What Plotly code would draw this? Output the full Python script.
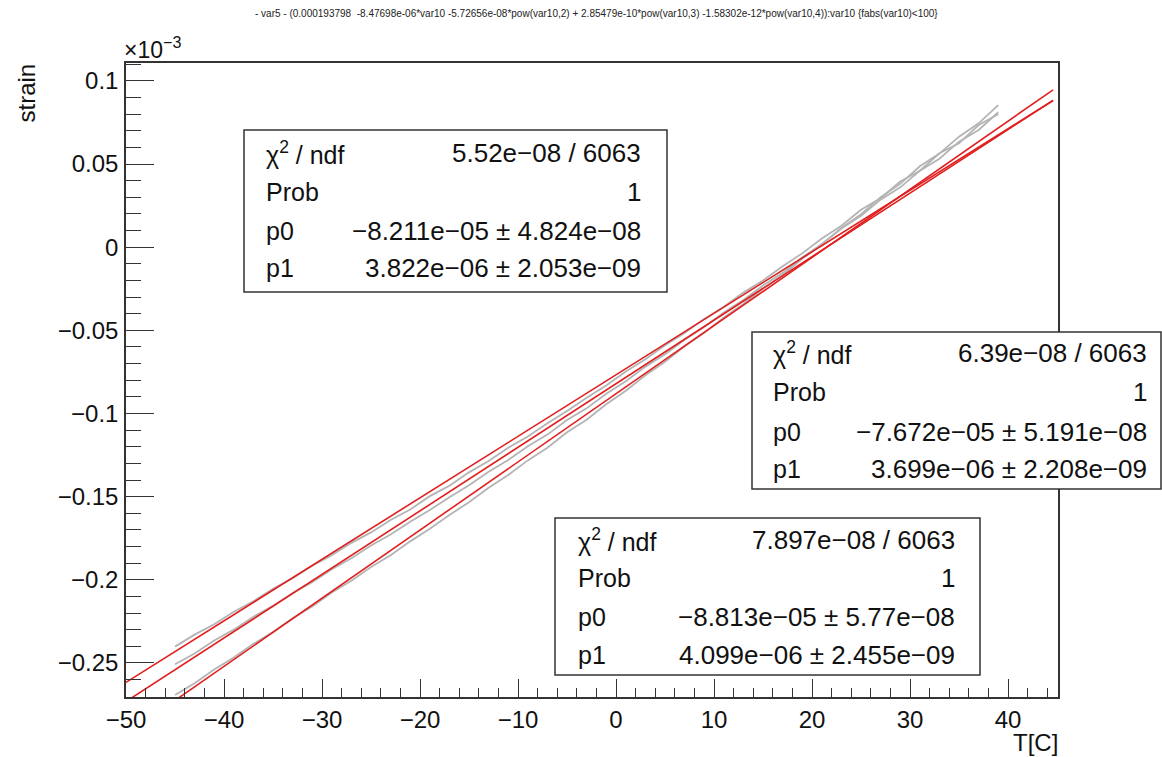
import plotly.graph_objects as go

# ---------------- data (strain in units of 1e-3, T in C) ----------------
temp = [-45, -43, -41, -39, -37, -35, -33, -31, -29, -27, -25, -23, -21, -19, -17,
        -15, -13, -11, -9, -7, -5, -3, -1, 1, 3, 5, 7, 9, 11, 13, 15, 17, 19, 21,
        23, 25, 27, 29, 31, 33, 35, 37, 39]

strain_a = [-0.2402, -0.2330, -0.2267, -0.2192, -0.2129, -0.2054, -0.1991, -0.1916,
            -0.1853, -0.1778, -0.1715, -0.1640, -0.1577, -0.1497, -0.1434, -0.1354,
            -0.1286, -0.1206, -0.1138, -0.1058, -0.0985, -0.0905, -0.0832, -0.0747,
            -0.0674, -0.0589, -0.0516, -0.0431, -0.0358, -0.0273, -0.0200, -0.0115,
            -0.0037, 0.0053, 0.0129, 0.0225, 0.0295, 0.0395, 0.0460, 0.0565, 0.0625,
            0.0735, 0.0800]

strain_b = [-0.2508, -0.2443, -0.2365, -0.2300, -0.2222, -0.2157, -0.2079, -0.2014,
            -0.1937, -0.1871, -0.1794, -0.1728, -0.1651, -0.1580, -0.1503, -0.1432,
            -0.1350, -0.1280, -0.1197, -0.1127, -0.1039, -0.0969, -0.0881, -0.0806,
            -0.0718, -0.0643, -0.0556, -0.0480, -0.0393, -0.0317, -0.0230, -0.0154,
            -0.0062, 0.0019, 0.0112, 0.0189, 0.0286, 0.0360, 0.0460, 0.0532, 0.0635,
            0.0705, 0.0812]

strain_c = [-0.2693, -0.2622, -0.2539, -0.2468, -0.2385, -0.2314, -0.2231, -0.2160,
            -0.2077, -0.2006, -0.1923, -0.1852, -0.1769, -0.1693, -0.1610, -0.1534,
            -0.1446, -0.1370, -0.1282, -0.1206, -0.1113, -0.1037, -0.0944, -0.0863,
            -0.0770, -0.0689, -0.0596, -0.0515, -0.0422, -0.0341, -0.0248, -0.0167,
            -0.0069, 0.0017, 0.0116, 0.0199, 0.0301, 0.0381, 0.0487, 0.0563, 0.0665,
            0.0745, 0.0855]

# fit parameters (pol1: p0 + p1*T), in strain units
fit_p0 = [-8.211e-05, -7.672e-05, -8.813e-05]
fit_p1 = [3.822e-06, 3.699e-06, 4.099e-06]
fit_range = [-50, 44.6]

# stats box texts
stat_chi2 = ["5.52e\u221208 / 6063", "6.39e\u221208 / 6063", "7.897e\u221208 / 6063"]
stat_prob = ["1", "1", "1"]
stat_p0 = ["\u22128.211e\u221205 \u00b1 4.824e\u221208",
           "\u22127.672e\u221205 \u00b1 5.191e\u221208",
           "\u22128.813e\u221205 \u00b1 5.77e\u221208"]
stat_p1 = ["3.822e\u221206 \u00b1 2.053e\u221209",
           "3.699e\u221206 \u00b1 2.208e\u221209",
           "4.099e\u221206 \u00b1 2.455e\u221209"]

x_tickvals = [-50, -40, -30, -20, -10, 0, 10, 20, 30, 40]
x_ticktext = ["\u221250", "\u221240", "\u221230", "\u221220", "\u221210", "0", "10", "20", "30", "40"]
y_tickvals = [-0.25, -0.2, -0.15, -0.1, -0.05, 0, 0.05, 0.1]
y_ticktext = ["\u22120.25", "\u22120.2", "\u22120.15", "\u22120.1", "\u22120.05", "0", "0.05", "0.1"]

title_text = ("- var5 - (0.000193798  -8.47698e-06*var10 -5.72656e-08*pow(var10,2) + "
              "2.85479e-10*pow(var10,3) -1.58302e-12*pow(var10,4)):var10 {fabs(var10)<100}")

# ---------------- layout geometry (pixels) ----------------
W, H = 1162, 757
L, R, T, B = 126, 1058, 63, 697
FONT = "Liberation Sans, Arial, Helvetica, sans-serif"
FRAME = "#333333"
TXT = "#111111"


def px(x):
    return (x - L) / (R - L)


def py(y):
    return (B - y) / (B - T)


fig = go.Figure()

for ys in (strain_a, strain_b, strain_c):
    fig.add_trace(go.Scatter(x=temp, y=ys, mode="lines",
                             line=dict(color="#b4b4b4", width=1.8),
                             showlegend=False, hoverinfo="skip"))

for p0, p1 in zip(fit_p0, fit_p1):
    xs = fit_range
    ys = [(p0 + p1 * x) * 1e3 for x in xs]
    fig.add_trace(go.Scatter(x=xs, y=ys, mode="lines",
                             line=dict(color="#e01e1e", width=1.6),
                             showlegend=False, hoverinfo="skip"))

fig.update_xaxes(range=[-50, 45.1], showgrid=False, zeroline=False,
                 showline=True, linecolor=FRAME, linewidth=1.5, mirror=True,
                 ticks="inside", ticklen=18, tickwidth=1.3, tickcolor=FRAME,
                 tickmode="array", tickvals=x_tickvals, ticktext=x_ticktext,
                 tickfont=dict(family=FONT, size=24, color=TXT),
                 ticklabelstandoff=0,
                 minor=dict(tickmode="linear", tick0=0, dtick=2, ticks="inside",
                            ticklen=9, tickwidth=1.2, tickcolor=FRAME, showgrid=False))
fig.update_yaxes(range=[-0.2705, 0.1108], showgrid=False, zeroline=False,
                 showline=True, linecolor=FRAME, linewidth=1.5, mirror=True,
                 ticks="inside", ticklen=28, tickwidth=1.3, tickcolor=FRAME,
                 tickmode="array", tickvals=y_tickvals, ticktext=y_ticktext,
                 tickfont=dict(family=FONT, size=24, color=TXT),
                 ticklabelstandoff=1,
                 minor=dict(tickmode="linear", tick0=0, dtick=0.01, ticks="inside",
                            ticklen=15, tickwidth=1.2, tickcolor=FRAME, showgrid=False))

annotations = [
    dict(text=title_text, x=px(596), y=py(13), xanchor="center", yanchor="middle",
         font=dict(family=FONT, size=10, color="#222222")),
    dict(text="strain", x=px(26), y=py(62), xanchor="center", yanchor="top",
         textangle=-90, font=dict(family=FONT, size=24, color=TXT)),
    dict(text="T[C]", x=px(1060), y=py(742), xanchor="right", yanchor="middle",
         font=dict(family=FONT, size=24, color=TXT)),
    dict(text="\u00d710<sup>\u22123</sup>", x=px(122), y=py(65), xanchor="left",
         yanchor="bottom", font=dict(family=FONT, size=23, color=TXT)),
]

boxes = [  # (left, top, right, bottom, text-left, text-right, row y's)
    (244, 130, 667, 292, 264, 643, [153, 192, 231, 268]),
    (752, 332, 1161, 489, 771, 1149, [353, 392, 432, 469]),
    (555, 518, 980, 675, 576, 957, [540, 578, 617, 655]),
]
shapes = []
for i, (x0, y0, x1, y1, tl, tr, rows) in enumerate(boxes):
    shapes.append(dict(type="rect", xref="paper", yref="paper",
                       x0=px(x0), x1=px(x1), y0=py(y1), y1=py(y0),
                       fillcolor="white", line=dict(color=FRAME, width=1.5),
                       layer="above"))
    left_txt = ["\u03c7<sup>2</sup> / ndf", "Prob", "p0", "p1"]
    right_txt = [stat_chi2[i], stat_prob[i], stat_p0[i], stat_p1[i]]
    for ry, lt, rt in zip(rows, left_txt, right_txt):
        annotations.append(dict(text=lt, x=px(tl), y=py(ry), xanchor="left",
                                yanchor="middle",
                                font=dict(family=FONT, size=25, color=TXT)))
        annotations.append(dict(text=rt, x=px(tr), y=py(ry), xanchor="right",
                                yanchor="middle",
                                font=dict(family=FONT, size=26, color=TXT)))

for a in annotations:
    a.update(xref="paper", yref="paper", showarrow=False)

fig.update_layout(width=W, height=H, paper_bgcolor="white", plot_bgcolor="white",
                  margin=dict(l=L, r=W - R, t=T, b=H - B, pad=0),
                  annotations=annotations, shapes=shapes, showlegend=False)

fig.write_html("out.html")
